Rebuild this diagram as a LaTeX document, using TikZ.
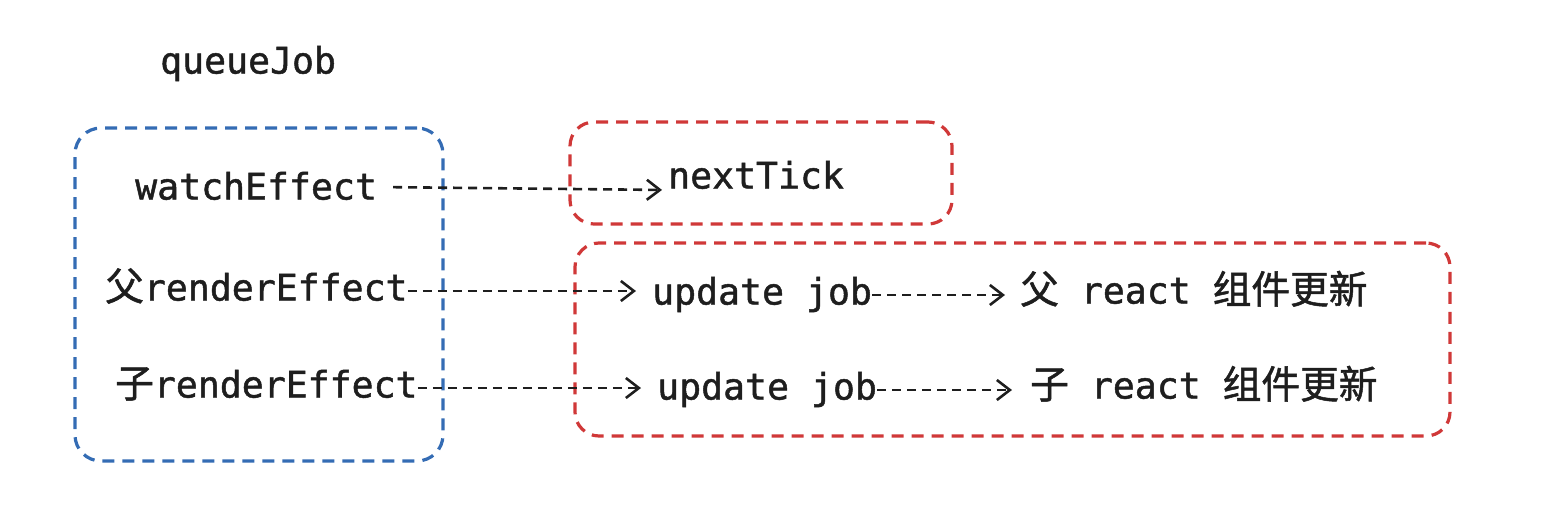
\documentclass[tikz,border=0pt]{standalone}
\usepackage{fontspec}
\newfontfamily\monof{DejaVu Sans Mono}[FakeBold=1.3]
\newfontfamily\cjk{Noto Sans CJK SC}[Scale=1.06,FakeBold=1.3]
\newcommand\zh[1]{{\cjk #1}}
\usetikzlibrary{arrows.meta}
\definecolor{boxblue}{RGB}{52,108,180}
\definecolor{boxred}{RGB}{208,56,56}
\definecolor{inkc}{RGB}{30,30,30}
\tikzset{
  lbl/.style={inner sep=0pt, anchor=west, text=inkc,
    font=\monof\fontsize{36.5}{40}\selectfont, text height=27pt, text depth=8pt},
  bluebox/.style={draw=boxblue, line width=3.2pt, dash pattern=on 12pt off 8pt,
    rounded corners=26pt, inner sep=0pt},
  redbox/.style={draw=boxred, line width=3.2pt, dash pattern=on 12pt off 8pt,
    rounded corners=24pt, inner sep=0pt},
  flow/.style={draw=inkc, line width=2.6pt, dash pattern=on 9pt off 6pt,
    -{Straight Barb[length=13pt,width=20pt,line width=2.6pt]}}
}
\begin{document}
\begin{tikzpicture}[x=1pt,y=-1pt]
\useasboundingbox (0,0) rectangle (1567,523);
% boxes
\node[bluebox, minimum width=368pt, minimum height=333pt] (qbox) at (259,294.5) {};
\node[redbox, minimum width=382pt, minimum height=102pt] (tbox) at (761,173) {};
\node[redbox, minimum width=875pt, minimum height=193pt] (ubox) at (1012.5,339.5) {};
% labels
\node[lbl] (q) at (160,64) {queueJob};
\node[lbl] (w) at (135,190) {watchEffect};
\node[lbl] (fr) at (105,291) {\zh{父}renderEffect};
\node[lbl] (zr) at (115,388) {\zh{子}renderEffect};
\node[lbl] (nt) at (668,179) {nextTick};
\node[lbl] (u1) at (652,295) {update job};
\node[lbl] (u2) at (657,390) {update job};
\node[lbl] (r1) at (1020,294) {\zh{父} react \zh{组件更新}};
\node[lbl] (r2) at (1030,389) {\zh{子} react \zh{组件更新}};
% connectors
\draw[flow, shorten <=16pt, shorten >=6pt] (w.east) ++(0,-3) -- (w.east -| nt.west);
\draw[flow, shorten >=16pt] (fr.east) -- (fr.east -| u1.west);
\draw[flow, shorten >=16pt] (zr.east) -- (zr.east -| u2.west);
\draw[flow, shorten >=15pt] (u1.east) -- (u1.east -| r1.west);
\draw[flow, shorten >=18pt] (u2.east) -- (u2.east -| r2.west);
\end{tikzpicture}
\end{document}
